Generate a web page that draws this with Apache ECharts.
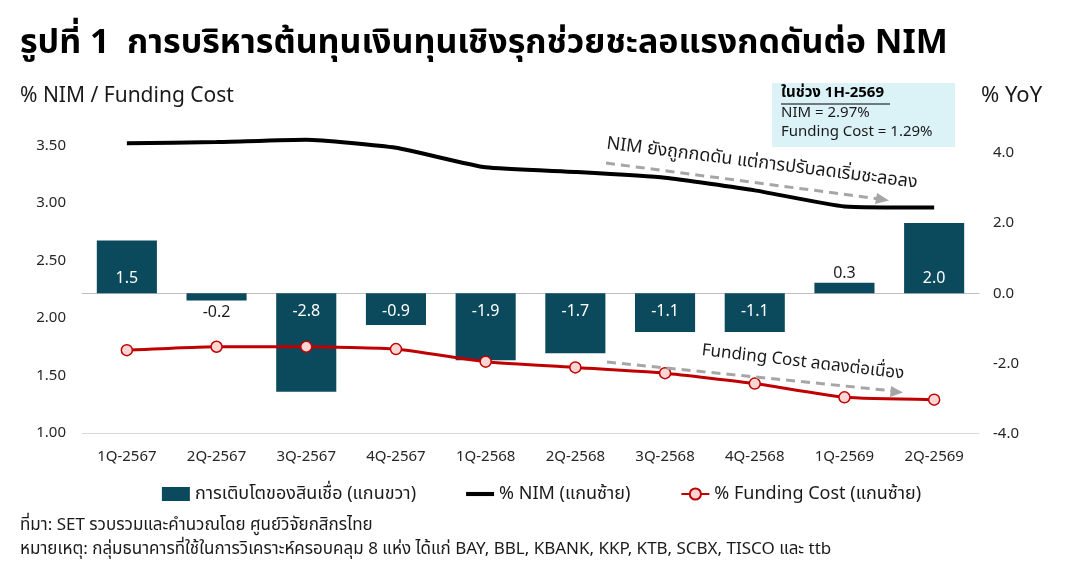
<!DOCTYPE html>
<html>
<head>
<meta charset="utf-8">
<script src="https://cdn.jsdelivr.net/npm/echarts@6/dist/echarts.min.js"></script>
<style>
html,body{margin:0;padding:0;background:#fff;}
#c{width:1083px;height:584px;}
</style>
</head>
<body>
<div id="c"></div>
<script>
const categories = ['1Q-2567','2Q-2567','3Q-2567','4Q-2567','1Q-2568','2Q-2568','3Q-2568','4Q-2568','1Q-2569','2Q-2569'];
const loanGrowth = [1.5, -0.2, -2.8, -0.9, -1.9, -1.7, -1.1, -1.1, 0.3, 2.0];
const nim = [3.52, 3.53, 3.55, 3.48, 3.31, 3.27, 3.22, 3.11, 2.97, 2.96];
const fundingCost = [1.72, 1.75, 1.75, 1.73, 1.62, 1.57, 1.52, 1.43, 1.31, 1.29];
const leftTicks = [1.0, 3.5, 0.5];   // min, max, interval
const rightTicks = [-4, 4, 2];

const FONT = '"Noto Sans", "Noto Sans Thai", "Liberation Sans", sans-serif';
const chart = echarts.init(document.getElementById('c'));

const barData = loanGrowth.map(v => {
  const big = Math.abs(v) >= 0.5;
  let position, distance;
  if (v >= 0) { position = big ? 'insideBottom' : 'top'; distance = big ? 7 : 1; }
  else { position = big ? 'insideTop' : 'bottom'; distance = big ? 10 : 4; }
  return { value: v, label: { position, distance, color: big ? '#ffffff' : '#1a1a1a' } };
});

const option = {
  backgroundColor: '#ffffff',
  animation: false,
  textStyle: { fontFamily: FONT },
  grid: [
    { left: 82, right: 104, top: 145.5, bottom: 151, containLabel: false },
    { left: 82, right: 104, top: 152.7, bottom: 150, containLabel: false }
  ],
  xAxis: [
    {
      type: 'category', gridIndex: 0, data: categories,
      axisLine: { show: true, lineStyle: { color: '#d9d9d9', width: 1 } },
      axisTick: { show: false },
      axisLabel: { color: '#262626', fontSize: 15, margin: 16, fontFamily: FONT }
    },
    {
      type: 'category', gridIndex: 1, data: categories,
      axisLine: { show: true, onZero: true, lineStyle: { color: '#bfbfbf', width: 1 } },
      axisTick: { show: false },
      axisLabel: { show: false }
    }
  ],
  yAxis: [
    {
      type: 'value', gridIndex: 0, position: 'left',
      min: leftTicks[0], max: leftTicks[1], interval: leftTicks[2],
      splitLine: { show: false }, axisLine: { show: false }, axisTick: { show: false },
      axisLabel: { color: '#262626', fontSize: 15, margin: 16, formatter: v => v.toFixed(2), fontFamily: FONT }
    },
    {
      type: 'value', gridIndex: 1, position: 'right',
      min: rightTicks[0], max: rightTicks[1], interval: rightTicks[2],
      splitLine: { show: false }, axisLine: { show: false }, axisTick: { show: false },
      axisLabel: { color: '#262626', fontSize: 15, margin: 14, formatter: v => v.toFixed(1), fontFamily: FONT }
    }
  ],
  legend: {
    top: 480, left: 'center',
    itemGap: 50, itemWidth: 28, itemHeight: 14,
    textStyle: { color: '#1a1a1a', fontSize: 18, fontFamily: FONT },
    data: [
      { name: 'การเติบโตของสินเชื่อ (แกนขวา)', icon: 'rect' },
      { name: '% NIM (แกนซ้าย)', icon: 'path://M0,0 H34 V5 H0 Z' },
      { name: '% Funding Cost (แกนซ้าย)' }
    ]
  },
  series: [
    {
      name: 'การเติบโตของสินเชื่อ (แกนขวา)', type: 'bar',
      xAxisIndex: 1, yAxisIndex: 1,
      data: barData, barWidth: '67%',
      itemStyle: { color: '#0b4a5d' },
      label: { show: true, fontSize: 16, formatter: p => p.value.toFixed(1), fontFamily: FONT },
      z: 1
    },
    {
      name: '% NIM (แกนซ้าย)', type: 'line',
      xAxisIndex: 0, yAxisIndex: 0,
      data: nim, smooth: 0.15, clip: false,
      symbol: 'none',
      lineStyle: { color: '#000000', width: 4 },
      itemStyle: { color: '#000000' },
      z: 5
    },
    {
      name: '% Funding Cost (แกนซ้าย)', type: 'line',
      xAxisIndex: 0, yAxisIndex: 0,
      data: fundingCost, smooth: 0.15, clip: false,
      symbol: 'circle', symbolSize: 11, showSymbol: true,
      lineStyle: { color: '#c00000', width: 3 },
      itemStyle: { color: '#fcd5d5', borderColor: '#c00000', borderWidth: 1.5 },
      z: 6
    }
  ],
  graphic: [
    { type: 'text', left: 20, top: 26, style: { text: 'รูปที่ 1  การบริหารต้นทุนเงินทุนเชิงรุกช่วยชะลอแรงกดดันต่อ NIM', fontSize: 34, fontWeight: 'bold', fill: '#000', fontFamily: FONT } },
    { type: 'text', left: 20, top: 86, style: { text: '% NIM / Funding Cost', fontSize: 21, fill: '#1a1a1a', fontFamily: FONT } },
    { type: 'text', left: 981, top: 85, style: { text: '% YoY', fontSize: 22, fill: '#1a1a1a', fontFamily: FONT } },
    { type: 'rect', shape: { x: 772, y: 83, width: 183, height: 64 }, style: { fill: '#dbf2f7' }, z: 10 },
    { type: 'text', left: 781, top: 85, z: 11, style: { text: 'ในช่วง 1H-2569', fontSize: 15, fontWeight: 'bold', fill: '#000', fontFamily: FONT } },
    { type: 'line', shape: { x1: 781, y1: 104, x2: 890, y2: 104 }, style: { stroke: '#000', lineWidth: 1.2 }, z: 11 },
    { type: 'text', left: 781, top: 105, z: 11, style: { text: 'NIM = 2.97%', fontSize: 15, fill: '#1a1a1a', fontFamily: FONT } },
    { type: 'text', left: 781, top: 124, z: 11, style: { text: 'Funding Cost = 1.29%', fontSize: 15, fill: '#1a1a1a', fontFamily: FONT } },
    // NIM annotation
    { type: 'line', shape: { x1: 606, y1: 163, x2: 880, y2: 199 }, style: { stroke: '#a6a6a6', lineWidth: 3, lineDash: [9, 6] }, z: 8 },
    { type: 'polygon', shape: { points: [[889, 200.5], [877, 193], [875, 204]] }, style: { fill: '#a6a6a6' }, z: 8 },
    { type: 'text', x: 762, y: 163, rotation: -7.2 * Math.PI / 180, z: 9,
      style: { text: 'NIM ยังถูกกดดัน แต่การปรับลดเริ่มชะลอลง', fontSize: 18, fill: '#1a1a1a', align: 'center', verticalAlign: 'middle', fontFamily: FONT } },
    // Funding annotation
    { type: 'line', shape: { x1: 607, y1: 362, x2: 894, y2: 391 }, style: { stroke: '#a6a6a6', lineWidth: 3, lineDash: [9, 6] }, z: 8 },
    { type: 'polygon', shape: { points: [[903, 392.5], [891, 386], [890, 397]] }, style: { fill: '#a6a6a6' }, z: 8 },
    { type: 'text', x: 803, y: 362, rotation: -6.7 * Math.PI / 180, z: 9,
      style: { text: 'Funding Cost ลดลงต่อเนื่อง', fontSize: 17, fill: '#1a1a1a', align: 'center', verticalAlign: 'middle', fontFamily: FONT } },
    // footer
    { type: 'text', left: 20, top: 517, style: { text: 'ที่มา: SET รวบรวมและคำนวณโดย ศูนย์วิจัยกสิกรไทย', fontSize: 17, fill: '#1a1a1a', fontFamily: FONT } },
    { type: 'text', left: 20, top: 541, style: { text: 'หมายเหตุ: กลุ่มธนาคารที่ใช้ในการวิเคราะห์ครอบคลุม 8 แห่ง ได้แก่ BAY, BBL, KBANK, KKP, KTB, SCBX, TISCO และ ttb', fontSize: 17, fill: '#1a1a1a', fontFamily: FONT } }
  ]
};
chart.setOption(option);
</script>
</body>
</html>
